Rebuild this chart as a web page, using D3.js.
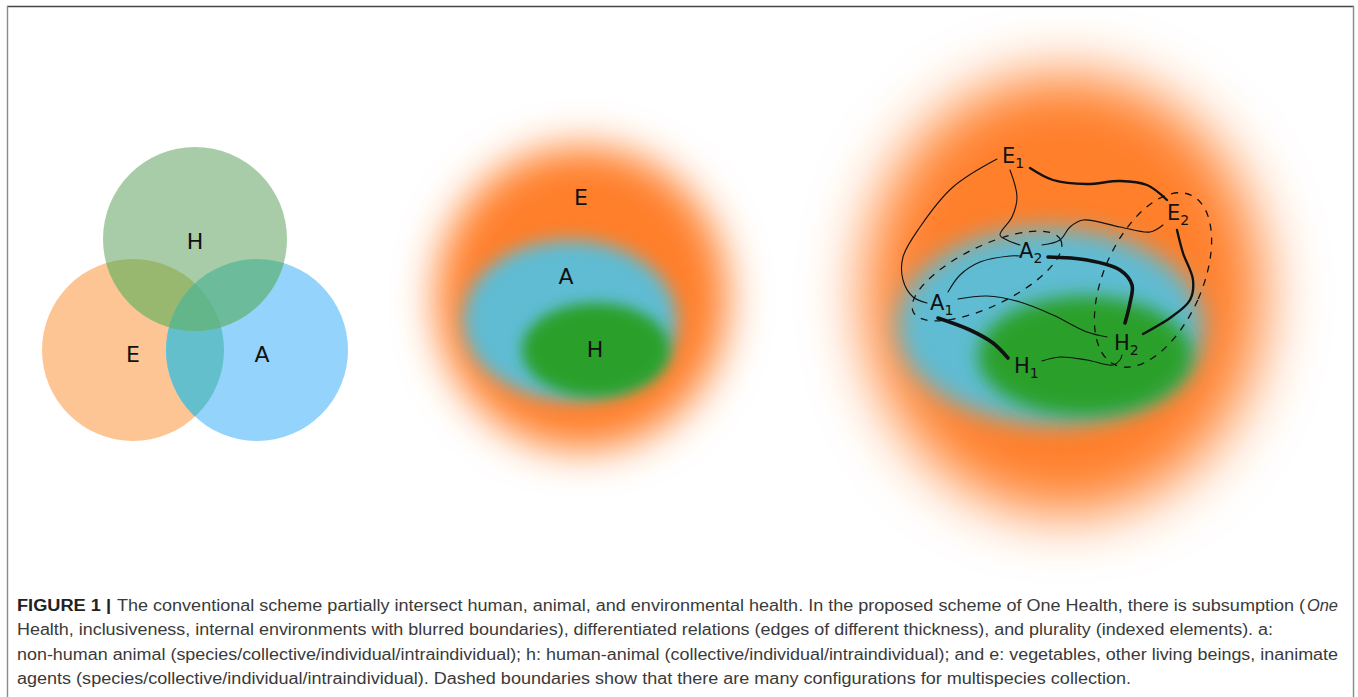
<!DOCTYPE html>
<html>
<head>
<meta charset="utf-8">
<script src="https://cdn.jsdelivr.net/npm/d3@7"></script>
<style>
  body { margin: 0; background: #fff; }
  svg { display: block; }
</style>
</head>
<body>
<div id="figure"></div>
<script>
// ---- conventional scheme (Venn) ----
const vennSets = ["E", "A", "H"];
const vennCx = [-62, 62, 0];
const vennCy = [50, 50, -61];
const vennR = [91, 91, 92];
const vennLabelX = [0, 5, 0];
const vennLabelY = [62, 62, -51];

// ---- proposed scheme, middle (nested blurred areas) ----
const blobSets = ["E", "A", "H"];
const midCx = [2, -10, 16];
const midCy = [-2, 20, 50];
const midRx = [146, 107, 74];
const midRy = [152, 80, 47];
const midLabelX = [1, -14, 15];
const midLabelY = [-95, -16, 57];

// ---- proposed scheme, right (network) ----
const netCx = [4, -10, 25];
const netCy = [4, 36, 66];
const netRx = [200, 153, 107];
const netRy = [220, 98, 60];

const nodeLetter = ["E", "E", "A", "A", "H", "H"];
const nodeIndex = ["1", "2", "1", "2", "1", "2"];
const nodeX = [-58, 107, -130, -41, -46, 54];
const nodeY = [-127, -70, 20, -32, 83, 60];

const edgeNames = ["E1-A1", "E1-A2", "E1-E2", "E2-A2", "E2-H2", "A2-H2", "A1-A2", "A1-H2", "A1-H1", "H1-H2"];
const edgeWeight = [1, 1, 2, 1, 2, 3, 1, 1, 3, 1];
const edgePoints = [
  [[-63,-131],[-107,-103],[-140,-63],[-157,-33],[-157,-10],[-147,7],[-133,13]],
  [[-50,-120],[-43,-93],[-48,-73],[-60,-55],[-53,-50],[-40,-45]],
  [[-30,-122],[-7,-110],[27,-106],[60,-109],[87,-105],[107,-90]],
  [[103,-65],[90,-58],[60,-63],[23,-70],[10,-63],[0,-50],[-18,-45]],
  [[117,-60],[123,-37],[133,-10],[130,10],[110,28],[83,44]],
  [[-12,-33],[27,-30],[60,-20],[72,-5],[70,13],[65,33]],
  [[-112,2],[-100,-15],[-80,-28],[-50,-34],[-40,-34]],
  [[-102,9],[-73,6],[-40,12],[-7,25],[27,42],[47,47]],
  [[-122,28],[-90,40],[-67,53],[-52,68]],
  [[-18,71],[0,67],[27,70],[53,75],[60,70],[62,65]]
];

// dashed multispecies collections
const groupCx = [-73, 93];
const groupCy = [-14, -10];
const groupRx = [82, 49];
const groupRy = [30, 93];
const groupAngle = [-26, 24];

const captionTitle = "FIGURE 1 |";
const captionLines = [
  "The conventional scheme partially intersect human, animal, and environmental health. In the proposed scheme of One Health, there is subsumption (",
  "Health, inclusiveness, internal environments with blurred boundaries), differentiated relations (edges of different thickness), and plurality (indexed elements). a:",
  "non-human animal (species/collective/individual/intraindividual); h: human-animal (collective/individual/intraindividual); and e: vegetables, other living beings, inanimate",
  "agents (species/collective/individual/intraindividual). Dashed boundaries show that there are many configurations for multispecies collection."
];
const captionItalic = "One";

const width = 1358;
const height = 697;

const vennColour = {E: "#fdc594", A: "#94d3fc", H: "#a8cca8", EA: "#62bfcb", EH: "#98b870", AH: "#6cbc9b", EAH: "#63b58a"};
const blobColour = ["#ff7f2a", "#5fbcd3", "#2ca02c"];
const midBlur = [20, 9, 7];
const netBlur = [30, 12, 9];

window.onload = function() {

  const svg = d3.select("#figure")
    .append("svg")
      .attr("width", width)
      .attr("height", height);

  const defs = svg.append("defs");

  // frame
  svg.append("line")
    .attr("x1", 7).attr("x2", 1354).attr("y1", 6.5).attr("y2", 6.5)
    .attr("stroke", "#444").attr("stroke-width", 1.6);
  [7.5, 1353.5].forEach(x => {
    svg.append("line")
      .attr("x1", x).attr("x2", x).attr("y1", 6).attr("y2", height)
      .attr("stroke", "#8a8a8a").attr("stroke-width", 1.4);
  });

  // ---------- Venn ----------
  const vx = d3.scaleLinear().domain([-200, 200]).range([-5, 395]);
  const vy = d3.scaleLinear().domain([-200, 200]).range([100, 500]);
  const vr = r => vx(r) - vx(0);

  vennSets.forEach((s, i) => {
    defs.append("clipPath").attr("id", "clip-" + s)
      .append("circle")
        .attr("cx", vx(vennCx[i])).attr("cy", vy(vennCy[i])).attr("r", vr(vennR[i]));
  });

  const venn = svg.append("g");
  const circleOf = (g, s, colour) => {
    const i = vennSets.indexOf(s);
    g.append("circle")
      .attr("cx", vx(vennCx[i])).attr("cy", vy(vennCy[i])).attr("r", vr(vennR[i]))
      .attr("fill", colour);
  };
  vennSets.forEach(s => circleOf(venn, s, vennColour[s]));
  circleOf(venn.append("g").attr("clip-path", "url(#clip-E)"), "A", vennColour.EA);
  circleOf(venn.append("g").attr("clip-path", "url(#clip-E)"), "H", vennColour.EH);
  circleOf(venn.append("g").attr("clip-path", "url(#clip-A)"), "H", vennColour.AH);
  circleOf(venn.append("g").attr("clip-path", "url(#clip-E)")
                .append("g").attr("clip-path", "url(#clip-A)"), "H", vennColour.EAH);

  venn.selectAll("text.venn")
    .data(vennSets)
    .enter()
      .append("text")
        .attr("x", (d, i) => vx(vennCx[i] + vennLabelX[i]))
        .attr("y", (d, i) => vy(vennLabelY[i]))
        .attr("text-anchor", "middle")
        .attr("font-family", "DejaVu Sans")
        .attr("font-size", 22)
        .attr("fill", "#111")
        .text(d => d);

  // ---------- blur filters ----------
  const addBlur = (id, sd) => {
    defs.append("filter").attr("id", id)
      .attr("x", "-70%").attr("y", "-70%").attr("width", "240%").attr("height", "240%")
      .append("feGaussianBlur").attr("stdDeviation", sd);
  };
  midBlur.forEach((sd, i) => addBlur("mid-blur-" + i, sd));
  netBlur.forEach((sd, i) => addBlur("net-blur-" + i, sd));

  // ---------- middle panel ----------
  const mx = d3.scaleLinear().domain([-200, 200]).range([380, 780]);
  const my = d3.scaleLinear().domain([-200, 200]).range([100, 500]);
  const mid = svg.append("g");

  mid.selectAll("ellipse")
    .data(blobSets)
    .enter()
      .append("ellipse")
        .attr("cx", (d, i) => mx(midCx[i]))
        .attr("cy", (d, i) => my(midCy[i]))
        .attr("rx", (d, i) => mx(midRx[i]) - mx(0))
        .attr("ry", (d, i) => my(midRy[i]) - my(0))
        .attr("fill", (d, i) => blobColour[i])
        .attr("filter", (d, i) => `url(#mid-blur-${i})`);

  mid.selectAll("text")
    .data(blobSets)
    .enter()
      .append("text")
        .attr("x", (d, i) => mx(midLabelX[i]))
        .attr("y", (d, i) => my(midLabelY[i]))
        .attr("text-anchor", "middle")
        .attr("font-family", "DejaVu Sans")
        .attr("font-size", 22)
        .attr("fill", "#111")
        .text(d => d);

  // ---------- right panel ----------
  const nx = d3.scaleLinear().domain([-250, 250]).range([810, 1310]);
  const ny = d3.scaleLinear().domain([-250, 250]).range([40, 540]);
  const net = svg.append("g");

  net.selectAll("ellipse.blob")
    .data(blobSets)
    .enter()
      .append("ellipse")
        .attr("class", "blob")
        .attr("cx", (d, i) => nx(netCx[i]))
        .attr("cy", (d, i) => ny(netCy[i]))
        .attr("rx", (d, i) => nx(netRx[i]) - nx(0))
        .attr("ry", (d, i) => ny(netRy[i]) - ny(0))
        .attr("fill", (d, i) => blobColour[i])
        .attr("filter", (d, i) => `url(#net-blur-${i})`);

  // dashed boundaries
  net.selectAll("ellipse.group")
    .data(groupCx)
    .enter()
      .append("ellipse")
        .attr("class", "group")
        .attr("transform", (d, i) => `translate(${nx(groupCx[i])}, ${ny(groupCy[i])}) rotate(${groupAngle[i]})`)
        .attr("rx", (d, i) => nx(groupRx[i]) - nx(0))
        .attr("ry", (d, i) => ny(groupRy[i]) - ny(0))
        .attr("fill", "none")
        .attr("stroke", "#111")
        .attr("stroke-width", 1.3)
        .attr("stroke-dasharray", "7,7");

  // edges
  const widthScale = d3.scaleLinear().domain([1, 3]).range([1.1, 3.6]);
  const edgeLine = d3.line()
    .x(d => nx(d[0]))
    .y(d => ny(d[1]))
    .curve(d3.curveCatmullRom.alpha(0.5));

  net.selectAll("path.edge")
    .data(edgeNames)
    .enter()
      .append("path")
        .attr("class", "edge")
        .attr("d", (d, i) => edgeLine(edgePoints[i]))
        .attr("fill", "none")
        .attr("stroke", "#111")
        .attr("stroke-width", (d, i) => widthScale(edgeWeight[i]))
        .attr("stroke-linecap", "round");

  // nodes
  const labels = net.selectAll("text.node")
    .data(nodeLetter)
    .enter()
      .append("text")
        .attr("class", "node")
        .attr("x", (d, i) => nx(nodeX[i]))
        .attr("y", (d, i) => ny(nodeY[i]))
        .attr("font-family", "DejaVu Sans")
        .attr("font-size", 21)
        .attr("fill", "#111");
  labels.append("tspan").text(d => d);
  labels.append("tspan")
    .attr("dy", 5)
    .attr("font-size", 14)
    .text((d, i) => nodeIndex[i]);

  // ---------- caption ----------
  const capY = d3.scaleLinear().domain([0, 3]).range([611, 684]);
  const capStart = [117, 17, 17, 17];
  const capEnd = [1305, 1273, 1338, 1131];
  const caption = svg.append("g")
    .attr("font-family", "Liberation Sans, Arial, sans-serif")
    .attr("font-size", 16)
    .attr("fill", "#3a3a3a");

  caption.selectAll("text.line")
    .data(captionLines)
    .enter()
      .append("text")
        .attr("class", "line")
        .attr("x", (d, i) => capStart[i])
        .attr("y", (d, i) => capY(i))
        .attr("textLength", (d, i) => capEnd[i] - capStart[i])
        .attr("lengthAdjust", "spacingAndGlyphs")
        .text(d => d);

  caption.append("text")
    .attr("x", 17).attr("y", capY(0))
    .attr("textLength", 94).attr("lengthAdjust", "spacingAndGlyphs")
    .attr("font-weight", "bold").attr("fill", "#222")
    .text(captionTitle);

  caption.append("text")
    .attr("x", 1307).attr("y", capY(0))
    .attr("textLength", 31).attr("lengthAdjust", "spacingAndGlyphs")
    .attr("font-style", "italic")
    .text(captionItalic);
};
</script>
</body>
</html>
